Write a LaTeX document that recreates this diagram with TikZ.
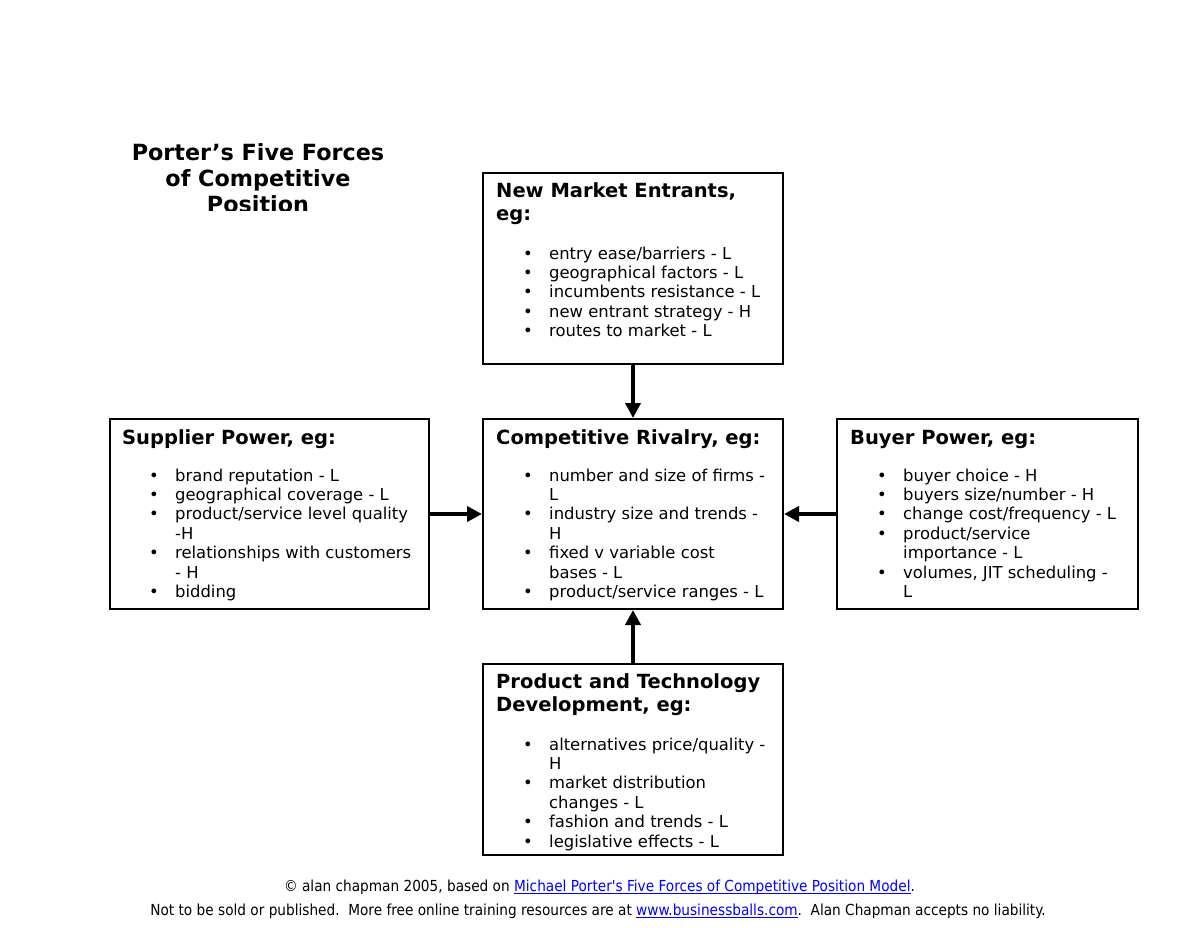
\documentclass[tikz,border=0pt]{standalone}
\usepackage{fontspec}
\setmainfont{DejaVu Sans}
\newfontfamily\footfont{DejaVu Sans Condensed}
\usetikzlibrary{arrows.meta}
\definecolor{linkblue}{RGB}{0,0,255}
\newcommand\bodyfont{\fontsize{16.4}{19.4}\selectfont}
\newcommand\headfont{\bfseries\fontsize{19.5}{23.5}\selectfont}
\newcommand\bi[1]{\hspace*{27pt}\makebox[26pt][l]{•}#1\par}
\newcommand\ct[1]{\hspace*{53pt}#1\par}
\newcommand\lst[1]{\begin{minipage}[t]{300pt}\bodyfont\setlength\parindent{0pt}#1\end{minipage}}
\newcommand\hd[1]{\begin{minipage}[t]{300pt}\headfont\setlength\parindent{0pt}#1\end{minipage}}
\newsavebox\lnkbox
\newcommand\lnk[1]{{\color{linkblue}\sbox\lnkbox{#1}\rlap{\rule[-2.5pt]{\wd\lnkbox}{0.9pt}}\usebox\lnkbox}}
\tikzset{
  forcebox/.style={draw=black, line width=2pt, inner sep=0pt, fill=white},
  txt/.style={anchor=base west, inner sep=0pt},
  arr/.style={line width=4.5pt, -{Triangle[width=15pt,length=15pt]}},
}
\begin{document}
\begin{tikzpicture}[x=1pt,y=-1pt]
\fill[white] (0,0) rectangle (1200,927);
\useasboundingbox (0,0) rectangle (1200,927);

% title (clipped)
\begin{scope}
\clip (0,0) rectangle (1200,210);
\node[anchor=base, inner sep=0pt] (title) at (258,160)
  {\bfseries\fontsize{22.3}{26}\selectfont\begin{tabular}[t]{@{}c@{}}Porter’s Five Forces\\
   of Competitive\\
   Position\end{tabular}};
\end{scope}

% boxes
\node[forcebox, minimum width=300pt, minimum height=191pt] (ne) at (633,268.5) {};
\node[forcebox, minimum width=300pt, minimum height=190pt] (cr) at (633,514) {};
\node[forcebox, minimum width=319pt, minimum height=190pt] (sp) at (269.5,514) {};
\node[forcebox, minimum width=301pt, minimum height=190pt] (bp) at (987.5,514) {};
\node[forcebox, minimum width=300pt, minimum height=191pt] (pt) at (633,759.5) {};

% arrows
\draw[arr] (ne.south) -- (cr.north);
\draw[arr] (sp.east) -- (cr.west);
\draw[arr] (bp.west) -- (cr.east);
\draw[arr] (pt.north) -- (cr.south);

% new market entrants
\node[txt] (neh) at (496,197) {\hd{New Market Entrants,\par eg:}};
\node[txt] (nel) at (496,259) {\lst{%
\bi{entry ease/barriers - L}
\bi{geographical factors - L}
\bi{incumbents resistance - L}
\bi{new entrant strategy - H}
\bi{routes to market - L}}};

% competitive rivalry
\node[txt] (crh) at (496,444) {\hd{Competitive Rivalry, eg:}};
\node[txt] (crl) at (496,481) {\lst{%
\bi{number and size of firms -}
\ct{L}
\bi{industry size and trends -}
\ct{H}
\bi{fixed v variable cost}
\ct{bases - L}
\bi{product/service ranges - L}}};

% supplier power
\node[txt] (sph) at (122,444) {\hd{Supplier Power, eg:}};
\node[txt] (spl) at (122,481) {\lst{%
\bi{brand reputation - L}
\bi{geographical coverage - L}
\bi{product/service level quality}
\ct{-H}
\bi{relationships with customers}
\ct{- H}
\bi{bidding}}};

% buyer power
\node[txt] (bph) at (850,444) {\hd{Buyer Power, eg:}};
\node[txt] (bpl) at (850,481) {\lst{%
\bi{buyer choice - H}
\bi{buyers size/number - H}
\bi{change cost/frequency - L}
\bi{product/service}
\ct{importance - L}
\bi{volumes, JIT scheduling -}
\ct{L}}};

% product and technology
\node[txt] (pth) at (496,688) {\hd{Product and Technology\par Development, eg:}};
\node[txt] (ptl) at (496,750) {\lst{%
\bi{alternatives price/quality -}
\ct{H}
\bi{market distribution}
\ct{changes - L}
\bi{fashion and trends - L}
\bi{legislative effects - L}}};

% footer
\node[anchor=base, inner sep=0pt] (f1) at (599.5,891)
  {\footfont\fontsize{15.2}{17}\selectfont © alan chapman 2005, based on \lnk{Michael Porter's Five Forces of Competitive Position Model}.};
\node[anchor=base, inner sep=0pt] (f2) at (598,915)
  {\footfont\fontsize{15.2}{17}\selectfont Not to be sold or published.\ \ More free online training resources are at \lnk{www.businessballs.com}.\ \ Alan Chapman accepts no liability.};
\end{tikzpicture}
\end{document}
